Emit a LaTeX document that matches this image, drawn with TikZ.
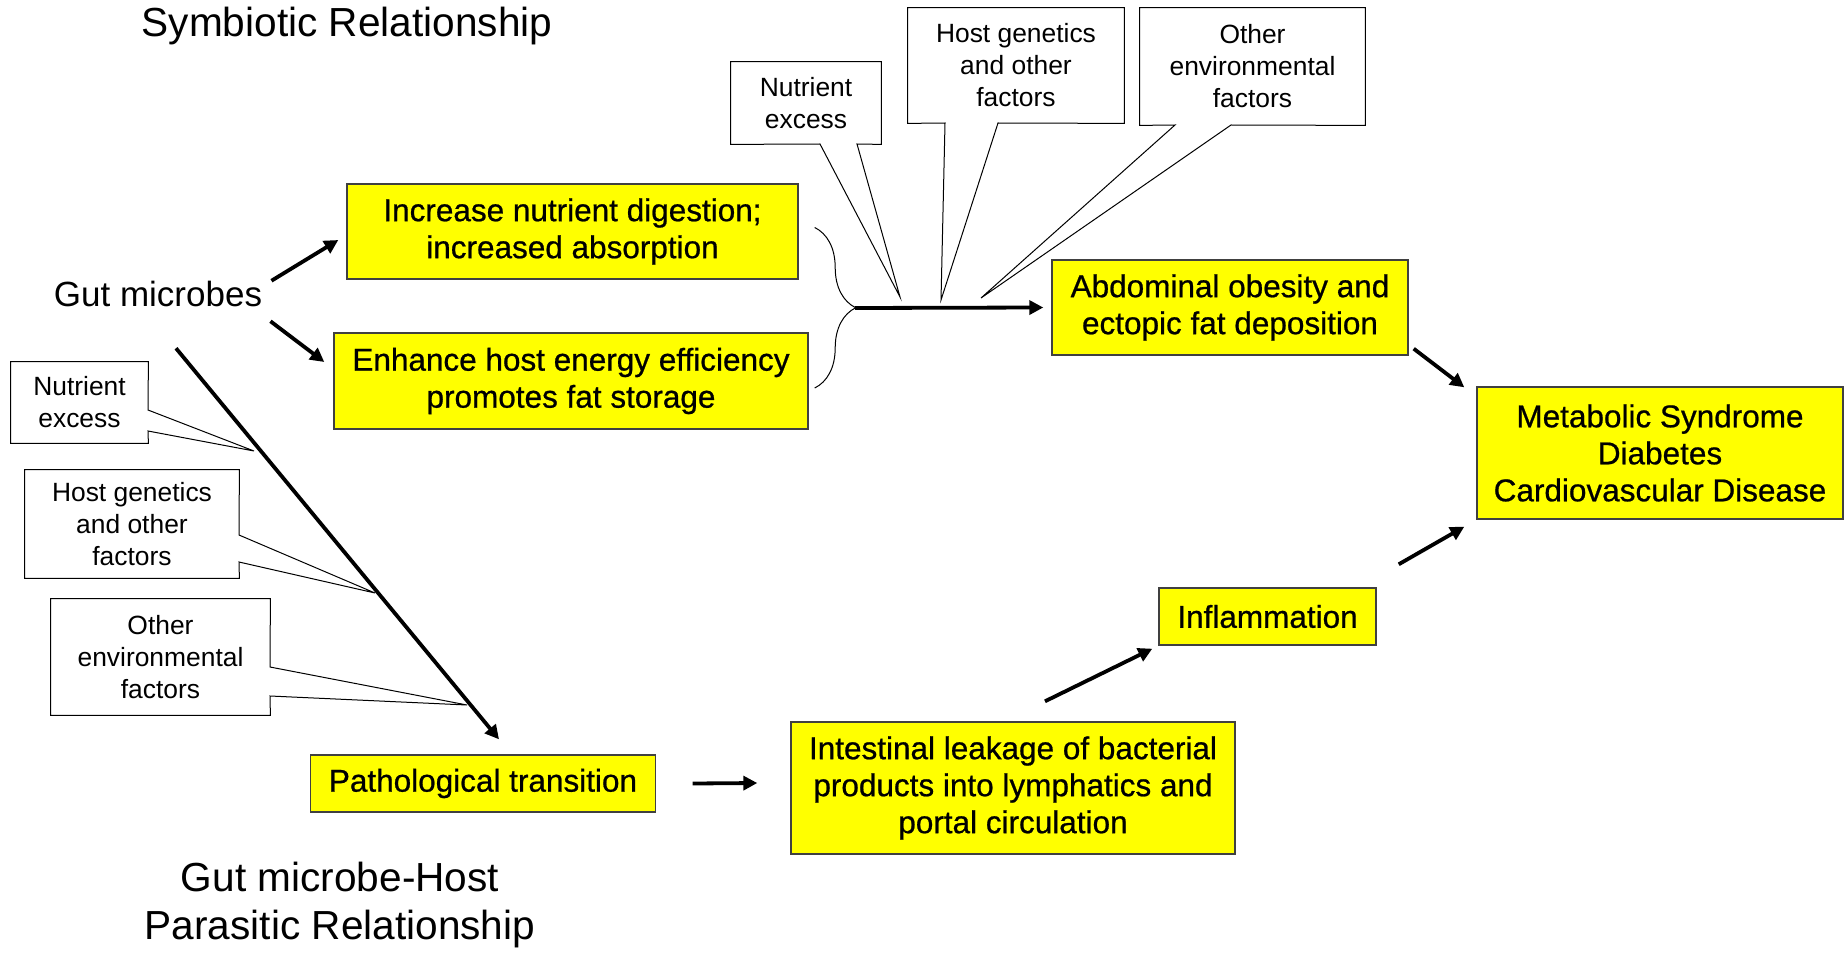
\documentclass[tikz,border=0pt]{standalone}
\usepackage{fontspec}
\setmainfont{Liberation Sans}
\newfontfamily\boxfont{Liberation Sans}[FakeBold=0.7]
\usetikzlibrary{arrows.meta,decorations.pathreplacing}
\definecolor{boxyellow}{RGB}{255,255,0}

\begin{document}
\begin{tikzpicture}[
    x=0.5pt, y=-0.5pt,
    every node/.style={inner sep=0pt},
    title/.style={font=\fontsize{20.3}{24}\selectfont, align=center},
    ybox/.style={draw=black!75, line width=0.7pt, fill=boxyellow, align=center, font=\boxfont\fontsize{15.75}{18.5}\selectfont},
    note/.style={align=center, font=\fontsize{13.2}{16}\selectfont},
    outline/.style={draw, line width=0.5pt},
    arr/.style={-{Triangle[length=7pt,width=7pt]}, line width=1.9pt},
    brc/.style={decorate, decoration={brace, amplitude=20.5pt}, line width=0.5pt}
]
\useasboundingbox (0,0) rectangle (1845,952);

% titles
\node[title] (symb) at (347,26.5) {Symbiotic Relationship};
\node[title] (para) at (340,905) {Gut microbe-Host\\Parasitic Relationship};
\node[font=\fontsize{17.5}{21}\selectfont] (gut) at (158,294) {Gut microbes};

% yellow boxes
\node[ybox, minimum width=225.5pt, minimum height=47.5pt] (incdig) at (572.5,231.5) {Increase nutrient digestion;\\increased absorption};
\node[ybox, minimum width=237pt, minimum height=48pt] (enheff) at (571,381) {Enhance host energy efficiency\\promotes fat storage};
\node[ybox, minimum width=178pt, minimum height=47.5pt] (abd) at (1230,307.5) {Abdominal obesity and\\ectopic fat deposition};
\node[ybox, minimum width=183pt, minimum height=66pt] (metab) at (1660,453) {Metabolic Syndrome\\Diabetes\\Cardiovascular Disease};
\node[ybox, minimum width=108.5pt, minimum height=28.5pt] (inflam) at (1267.5,616.5) {Inflammation};
\node[ybox, minimum width=172.5pt, minimum height=28.5pt] (patho) at (483,783.5) {Pathological transition};
\node[ybox, minimum width=222pt, minimum height=66pt] (leak) at (1013,788) {Intestinal leakage of bacterial\\products into lymphatics and\\portal circulation};

% callouts, top row
\node[note, minimum width=75pt, minimum height=41pt] (nutTop) at (806,103) {Nutrient\\excess};
\node[note, minimum width=108pt, minimum height=57.5pt] (hostTop) at (1016,65.5) {Host genetics\\and other\\factors};
\node[note, minimum width=112.5pt, minimum height=58.5pt] (envTop) at (1252.5,66.5) {Other\\environmental\\factors};
\draw[outline] (nutTop.south west) -- (nutTop.north west) -- (nutTop.north east) -- (nutTop.south east) -- (857,144) -- (900,297) -- (820,144) -- cycle;
\draw[outline] (hostTop.south west) -- (hostTop.north west) -- (hostTop.north east) -- (hostTop.south east) -- (998,123) -- (941,300) -- (945,123) -- cycle;
\draw[outline] (envTop.south west) -- (envTop.north west) -- (envTop.north east) -- (envTop.south east) -- (1231,125) -- (981,298) -- (1175,125) -- cycle;

% callouts, left column
\node[note, minimum width=68.5pt, minimum height=40.5pt] (nutLeft) at (79.5,402.5) {Nutrient\\excess};
\node[note, minimum width=107pt, minimum height=54pt] (hostLeft) at (132,524) {Host genetics\\and other\\factors};
\node[note, minimum width=109.5pt, minimum height=58pt] (envLeft) at (160.5,657) {Other\\environmental\\factors};
\draw[outline] (nutLeft.north east) -- (nutLeft.north west) -- (nutLeft.south west) -- (nutLeft.south east) -- (148,431) -- (254,451) -- (148,410) -- cycle;
\draw[outline] (hostLeft.north east) -- (hostLeft.north west) -- (hostLeft.south west) -- (hostLeft.south east) -- (239,562) -- (375,593) -- (239,535) -- cycle;
\draw[outline] (envLeft.north east) -- (envLeft.north west) -- (envLeft.south west) -- (envLeft.south east) -- (270,696) -- (467,705) -- (270,667) -- cycle;

% brace
\coordinate (brTop) at ([shift={(16,-4)}]incdig.east);
\coordinate (brBot) at ([shift={(6,7)}]enheff.east);
\coordinate (brTip) at (855,308);
\draw[brc] (brTop) -- (brBot);

% arrows
\draw[arr] ([shift={(9,0)}]gut.north east) -- ([shift={(-8,8.5)}]incdig.west);
\draw[arr] ([shift={(8,14)}]gut.south east) -- ([shift={(-9,-19)}]enheff.west);
\draw[arr] ([shift={(18,41)}]gut.south) -- ([shift={(16,-15)}]patho.north);
\draw[arr] (brTip) -- ([shift={(-8,0)}]abd.west);
\draw[arr] ([shift={(5,-7)}]abd.south east) -- ([shift={(-12,1)}]metab.north west);
\draw[arr] ([shift={(36.5,0)}]patho.east) -- ([shift={(-33,-5)}]leak.west);
\draw[arr] ([shift={(32,-20)}]leak.north) -- ([shift={(-6,3)}]inflam.south west);
\draw[arr] ([shift={(22,-23)}]inflam.north east) -- ([shift={(-12,7)}]metab.south west);
\end{tikzpicture}
\end{document}
